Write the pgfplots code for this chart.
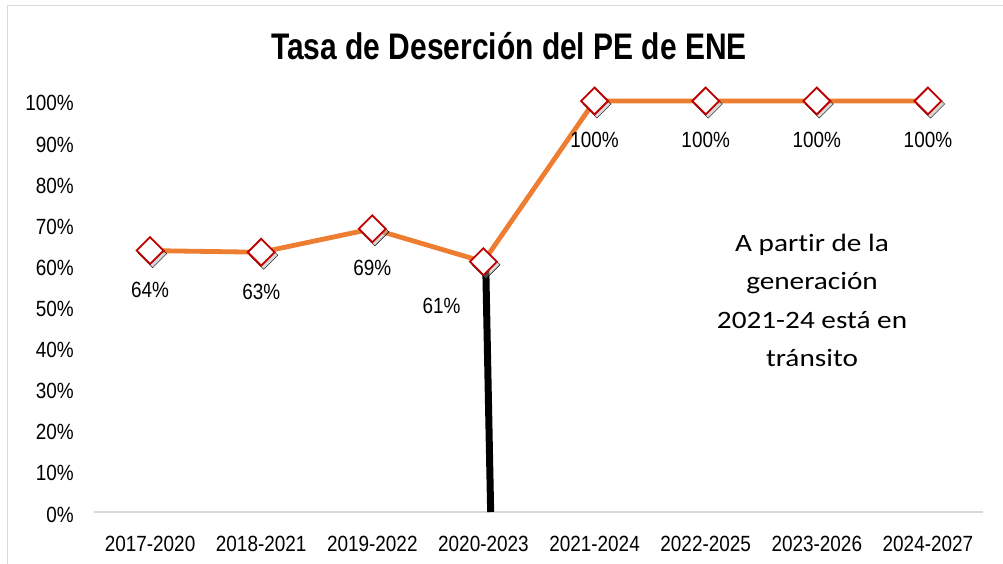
\documentclass[border=0pt]{standalone}
\usepackage{pgfplots}
\pgfplotsset{compat=1.18}
\usepackage{fontspec}
\setmainfont{Liberation Sans}[FakeStretch=0.86]
\newfontfamily\titlefont{Liberation Sans}[FakeStretch=0.81]
\newfontfamily\calibri{Carlito}[FakeStretch=1.17, Ligatures=NoCommon]
\definecolor{orangeline}{HTML}{ED7D31}
\definecolor{darkred}{HTML}{C00000}
\definecolor{framegray}{HTML}{D9D9D9}

\begin{document}
\begin{tikzpicture}
\useasboundingbox (-94.5bp,-52bp) rectangle (908.5bp,512bp);
\draw[framegray, line width=1.5bp] (-87bp,-60bp) -- (-87bp,506.5bp) -- (920bp,506.5bp);
\begin{axis}[
  at={(0,0)}, anchor=south west, scale only axis,
  width=889bp, height=411bp,
  xmin=-0.5, xmax=7.5, ymin=0, ymax=100, clip=false,
  separate axis lines, axis x line*=bottom, axis y line*=left,
  x axis line style={draw=framegray, line width=1.5bp, -},
  y axis line style={draw=none},
  major tick length=0,
  xtick={0,...,7},
  xticklabels={2017-2020,2018-2021,2019-2022,2020-2023,2021-2024,2022-2025,2023-2026,2024-2027},
  ytick={0,10,...,100},
  yticklabel={\pgfmathprintnumber{\tick}\%},
  /pgf/number format/assume math mode=true,
  font=\fontsize{22bp}{26bp}\selectfont,
  xticklabel style={anchor=base, inner sep=0pt, yshift=-39bp},
  yticklabel style={anchor=base east, inner sep=0pt, xshift=-20.5bp, yshift=-10bp},
]
\addplot[only marks, mark=square*, mark size=10bp, xshift=2.5bp, yshift=-3bp,
  mark options={rotate=45, fill=black!35, draw=none, fill opacity=0.45}]
  coordinates {(0,63.6) (1,63.2) (2,68.9) (3,60.9) (4,100) (5,100) (6,100) (7,100)};
\addplot[orangeline, line width=4.8bp, mark=square*, mark size=9.5bp,
  mark options={rotate=45, fill=white, draw=darkred, line width=1.8bp}]
  coordinates {(0,63.6) (1,63.2) (2,68.9) (3,60.9) (4,100) (5,100) (6,100) (7,100)};
\addplot[black, line width=7bp] coordinates {(3.02,60.9) (3.065,0)};
\addplot[draw=none, mark=none, nodes near coords, point meta=explicit symbolic,
  every node near coord/.append style={anchor=base, inner sep=0pt, yshift=-47bp}]
  coordinates {(0,63.6)[64\%] (1,63.2)[63\%] (2,68.9)[69\%] (4,100)[100\%] (5,100)[100\%] (6,100)[100\%] (7,100)[100\%]};
\addplot[draw=none, mark=none, nodes near coords, point meta=explicit symbolic,
  every node near coord/.append style={anchor=base, inner sep=0pt, xshift=-42bp, yshift=-52bp}]
  coordinates {(3,60.9)[61\%]};
\end{axis}
\node[anchor=base, inner sep=0pt, font=\titlefont\bfseries\fontsize{37bp}{44bp}\selectfont] at (414.5bp,452bp) {Tasa de Deserción del PE de ENE};
\begin{scope}[every node/.style={anchor=base, inner sep=0pt, font=\calibri\fontsize{25bp}{30bp}\selectfont}]
\node at (717.5bp,260.3bp) {A partir de la};
\node at (717.5bp,222bp) {generación};
\node at (717.5bp,183.7bp) {2021-24 está en};
\node at (717.5bp,145.4bp) {tránsito};
\end{scope}
\end{tikzpicture}
\end{document}
